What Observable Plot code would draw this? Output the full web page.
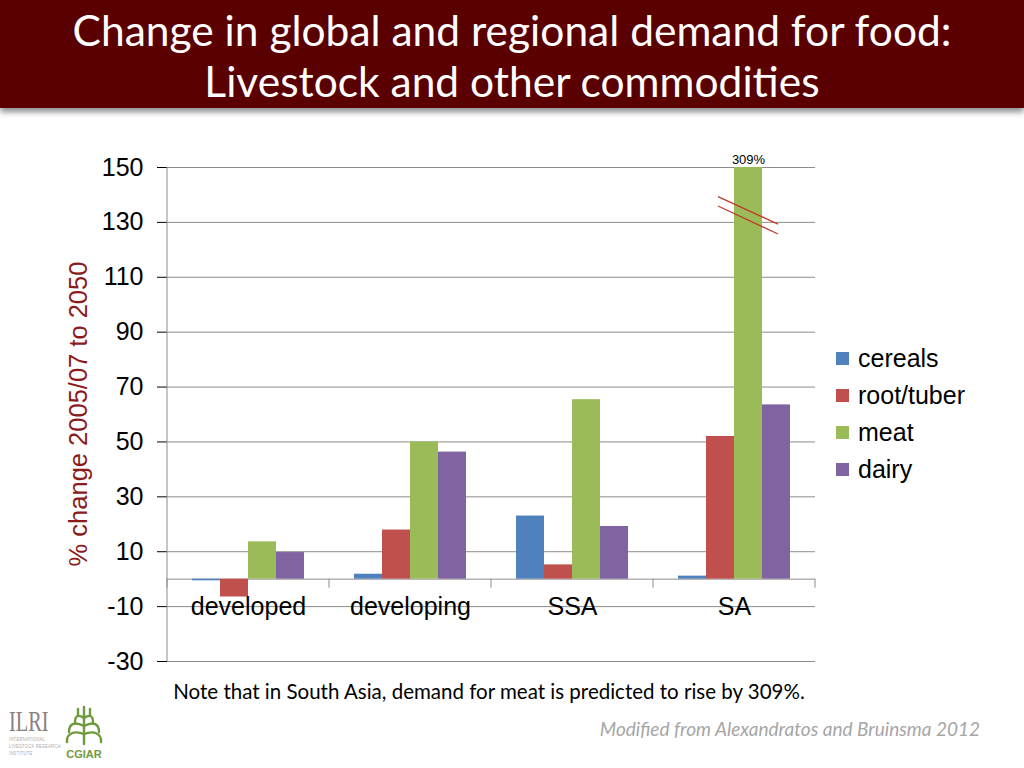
<!DOCTYPE html>
<html>
<head>
<meta charset="utf-8">
<script src="https://cdn.jsdelivr.net/npm/d3@7"></script>
<script src="https://cdn.jsdelivr.net/npm/@observablehq/plot@0.6"></script>
<style>
  html, body { margin: 0; padding: 0; background: #fff; }
  #page { position: relative; width: 1024px; height: 768px; overflow: hidden; background: #fff; }
  #title { position: absolute; left: 0; top: 0; width: 1024px; height: 108px; background: #5a0000;
    box-shadow: 0 4px 6px rgba(0,0,0,0.45); color: #fff; font-family: Lato, "Open Sans", sans-serif;
    font-size: 42.5px; line-height: 51px; text-align: center; padding-top: 4px; box-sizing: border-box; }
  #chart { position: absolute; left: 0; top: 140px; }
  #ylabel { position: absolute; left: 78px; top: 414px; transform: translate(-50%, -50%) rotate(-90deg);
    white-space: nowrap; font-family: "Liberation Sans", Arial, sans-serif; font-size: 25.5px; color: #8b1a1a; }
  #legend { position: absolute; left: 836px; top: 340px; font-family: "Liberation Sans", Arial, sans-serif; font-size: 25px; }
  .li { display: flex; align-items: center; height: 37px; }
  .sw { width: 13px; height: 13px; margin-right: 9px; }
  #note { position: absolute; left: 0; width: 978px; top: 679px; text-align: center; font-family: Lato, "Open Sans", sans-serif; font-size: 20.5px; color: #000; }
  #caption { position: absolute; right: 44px; top: 717px; font-family: Lato, "Open Sans", sans-serif; font-style: italic; font-size: 19px; color: #a6a6a6; }
  #ilri { position: absolute; left: 9px; top: 706px; font-family: "Liberation Serif", serif; font-size: 29px; line-height: 30px; color: #8a8080;
    transform: scaleX(0.7); transform-origin: left top; }
  #ilri small { display: block; font-family: "Liberation Sans"; font-size: 6px; color: #b0a8a8; line-height: 7px; margin-top: 0px; letter-spacing: 0.3px; }
  #cgiar { position: absolute; left: 62px; top: 704px; }
</style>
</head>
<body>
<div id="page">
  <div id="title">Change in global and regional demand for food:<br>Livestock and other commodities</div>
  <div id="chart"></div>
  <div id="ylabel">% change 2005/07 to 2050</div>
  <div id="legend"></div>
  <div id="note">Note that in South Asia, demand for meat is predicted to rise by 309%.</div>
  <div id="caption">Modified from Alexandratos and Bruinsma 2012</div>
  <div id="ilri">ILRI<small>INTERNATIONAL<br>LIVESTOCK RESEARCH<br>INSTITUTE</small></div>
  <div id="cgiar">
    <svg width="44" height="60" viewBox="0 0 44 60">
      <g fill="none" stroke="#6f9a3c" stroke-width="2.4" stroke-linecap="round">
        <path d="M22 3 V40"/>
        <path d="M22 14 C16 10 13 12 13 18"/><path d="M22 14 C28 10 31 12 31 18"/>
        <path d="M22 22 C12 17 7 20 7 28"/><path d="M22 22 C32 17 37 20 37 28"/>
        <path d="M22 30 C12 26 4 30 5 38"/><path d="M22 30 C32 26 40 30 39 38"/>
        <path d="M16 5 V11"/><path d="M28 5 V11"/>
      </g>
      <text x="22" y="54" text-anchor="middle" font-family="Liberation Sans, Arial" font-weight="bold" font-size="11" fill="#6f9a3c">CGIAR</text>
    </svg>
  </div>
</div>
<script>
// ---- data ----
const regions = ["developed", "developing", "SSA", "SA"];
const commodities = ["cereals", "root/tuber", "meat", "dairy"];
const cereals   = [-0.6, 1.8, 23, 1.1];
const rootTuber = [-6.5, 17.9, 5.2, 52];
const meat      = [13.6, 50, 65.4, 309];
const dairy     = [9.7, 46.3, 19.2, 63.5];
const yTicks = [-30, -10, 10, 30, 50, 70, 90, 110, 130, 150];
const colors = ["#4F81BD", "#C0504D", "#9BBB59", "#8064A2"];
const breakLines = [[139.2, 129.2], [135.8, 125.6]]; // y values (start, end) of the axis-break marks

const series = [cereals, rootTuber, meat, dairy];
const data = [];
regions.forEach((r, i) => commodities.forEach((c, j) => data.push({region: r, commodity: c, value: series[j][i]})));

const gray = "#8c8c8c";
const chart = Plot.plot({
  width: 825,
  height: 531,
  marginLeft: 167,
  marginRight: 10,
  marginTop: 27,
  marginBottom: 10,
  style: {fontFamily: "'Liberation Sans', Arial, sans-serif", fontSize: "25px", color: "#000", background: "transparent", overflow: "visible"},
  fx: {domain: regions, padding: 0, axis: null},
  x: {domain: commodities, paddingInner: 0, paddingOuter: 0.8, axis: null},
  y: {domain: [-30, 150], clamp: true, ticks: yTicks, tickFormat: d => String(d), tickSize: 10, tickPadding: 14, label: null, grid: false},
  color: {domain: commodities, range: colors},
  marks: [
    Plot.ruleY(yTicks, {stroke: gray, strokeWidth: 1}),
    Plot.ruleY([0], {stroke: gray, strokeWidth: 1}),
    Plot.barY(data, {fx: "region", x: "commodity", y1: 0, y2: "value", fill: "commodity"}),
    Plot.text(regions, {fx: d => d, y: -10, text: d => d, fontSize: 25, fill: "#000"}),
    Plot.text(data.filter(d => d.value > 150), {fx: "region", x: "commodity", y: 150, text: d => d.value + "%", dy: -8, fontSize: 13, fill: "#000"})
  ]
});
document.getElementById("chart").appendChild(chart);

// grey tick marks for y axis
const svg = d3.select(chart.tagName.toLowerCase() === "svg" ? chart : chart.querySelector("svg"));
svg.selectAll('[aria-label="y-axis tick"]').attr("stroke", gray);
svg.selectAll('[aria-label="y-axis"] .tick line').attr("stroke", gray);
svg.selectAll('[aria-label="y-axis"] path.domain').attr("stroke", gray);

const fx = chart.scale("fx"), xs = chart.scale("x"), ys = chart.scale("y");
const xOrigin = Math.min(...xs.range);
const deco = svg.append("g").attr("stroke", gray).attr("fill", "none");
const x0 = fx.apply(regions[0]);
const xEnd = fx.apply(regions[regions.length - 1]) + fx.bandwidth;
// left axis line
deco.append("line").attr("x1", x0).attr("x2", x0).attr("y1", ys.apply(150)).attr("y2", ys.apply(-30));
// category boundary ticks
regions.map(r => fx.apply(r)).concat([xEnd]).forEach(x => {
  deco.append("line").attr("x1", x).attr("x2", x).attr("y1", ys.apply(0)).attr("y2", ys.apply(0) + 9);
});
// axis-break marks on the clipped SA meat bar
data.filter(d => d.value > 150).forEach(d => {
  const left = fx.apply(d.region) + xs.apply(d.commodity) - xOrigin;
  const right = left + xs.bandwidth;
  breakLines.forEach(([a, b]) => {
    svg.append("line").attr("x1", left - 16).attr("x2", right + 16)
      .attr("y1", ys.apply(a)).attr("y2", ys.apply(b))
      .attr("stroke", "#c0392b").attr("stroke-width", 1.3);
  });
});

// legend
const legend = d3.select("#legend");
commodities.forEach((c, i) => {
  const row = legend.append("div").attr("class", "li");
  row.append("div").attr("class", "sw").style("background", colors[i]);
  row.append("span").text(c);
});
</script>
</body>
</html>
